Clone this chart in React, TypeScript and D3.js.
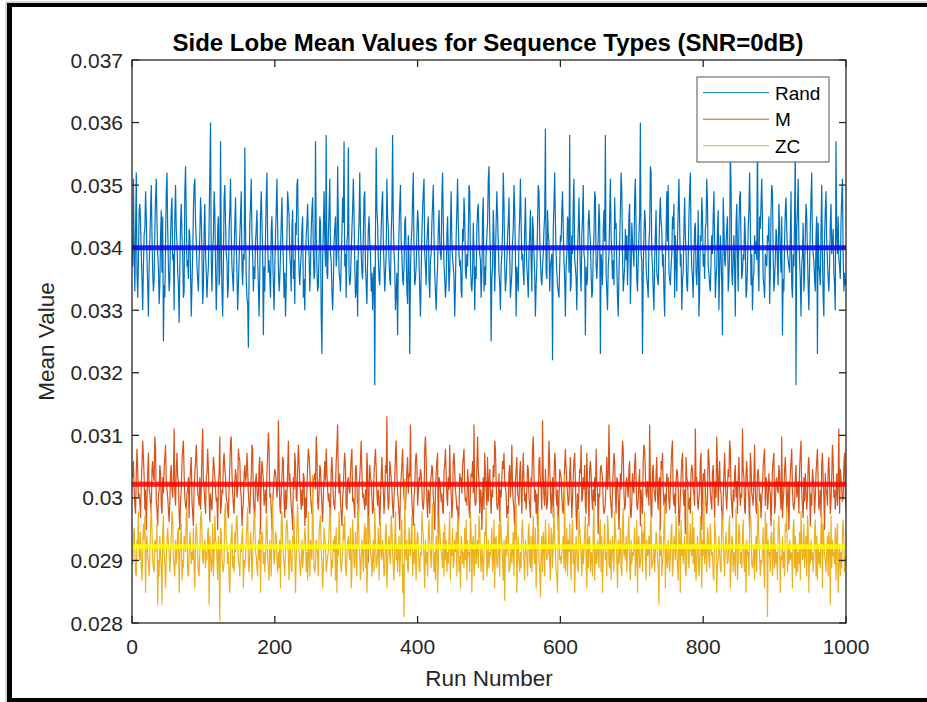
import React from 'react';
import * as d3 from 'd3';

// ---------- data ----------
const X_TICKS = [0, 200, 400, 600, 800, 1000];
const Y_TICKS = [0.028, 0.029, 0.03, 0.031, 0.032, 0.033, 0.034, 0.035, 0.036, 0.037];
const X_DOMAIN = [0, 1000];
const Y_DOMAIN = [0.028, 0.037];
const SERIES_NAMES = ['Rand', 'M', 'ZC'];
const SERIES_MEANS = [0.034, 0.03022, 0.02922];

// values are coded one character per run: value = centre + step * (index in ALPHABET - 24)
const ALPHABET = 'ABCDEFGHIJKLMNOPQRSTUVWXYZabcdefghijklmnopqrstuvwxyz';
const RAND_CENTRE = 0.034;
const RAND_STEP = 0.0001;
const M_CENTRE = 0.0302;
const M_STEP = 0.000065;
const ZC_CENTRE = 0.0292;
const ZC_STEP = 0.000065;

const RAND_CODES = [
  'VjXRbkUQWe fcXTOVabhd WSNVZeiaUR TbgjcXVPSa eUdJSQZhkb',
  'VRTaegWXOd ibZUSMVcfa XQRhldVWTb aUNSXeijcZ VTRWagdXPS',
  'bfXUQTVcks WRXaheVOTb dSUpZRNVgi cXWQSbejaV TRXcgZUOSW',
  'adhVSXWobT QPIUcfjaXR VTZbeWSNUd hcXKVRagkZ UWTQbdXSOV',
  'aejbVRTXcg ZWQUNSahfd XVRbeTWPca ijZUSVXbdQ TOWacfZXRV',
  'begXTUpaVR SXdcNHWbhZ VqUTaejXWR OSZbdVXlcU TRWagcpVXQ',
  'ZaoUSTXbej dVQRWNZckb XUTaghVSPW bdZXRUOTVC aoecWTSXbf',
  'hZVRUXjdbW TSaeqcXVOR UKWbfiZXTS VcdXRPaWHU ZbgkXSTVae',
  'cWRNUaehjX VSZbdTQWXc fiaUROSVbe ZXWgkcVTQS adXRUbhZWV',
  'TNSaejcXVW RQbZgdUTXV aihWSRUcXO VTbefZXWQU dgRVSXacjl',
  'bXJTVeaRWc hdZUSOVXbk fVRTWacgXQ SUZbieXNVT RadjcWXUSb',
  'gZVTQXaeWR dbXUNSVcih aWTSVXbdrU TeaZRVWXGb fkcXUSRQVa',
  'ZehbWTNVXd cUqRSaXfjW VTOXbgZURa diXWKVSTce bZUQRXahgV',
  'TWafcHXVSb eZqUROVXdj aXTWSgbcVQ NUZekhXRTV bWaSXdfPUc',
  'ZXVgjbTRWa dsXWHUaecV TSQZblkXVR OWaeUTSXdg cbVXRNWahZ',
  'iUTSVXdbfQ aWRZejcVXO TUbgaXSRWd hkZVTQXbcU SWeNRaZgdV',
  'XTbcjfVUSR WaXdhZQTVb eOUaXSKgcW VZbdRTXoiU SWaVNcfXRb',
  'ghZTUXWdaQ RVbekcSXOT UaXZWrVRdb fjcTSQXWVa ZdPUeihXRT',
  'WbaVSfcXUd KTRZegbXWV UahSQXVdoC bejZWTNVXc RUafdXSOVb',
  'gkZXWTRadH cVUSbiXQNa ehZWTRVcfX ZbUSOpaXdW VTcgjXRUST',
];

const M_CODES = [
  'aeXTRbhcVW UQZdjfaSXN VbgXWTRcea ZkhUSOVXdb TRaWcfiZXV',
  'SPUbdXVamW TcgaZRNUXe hjbVTSWXaQ ZcfUROXbei dWVTaSXgmZ',
  'XURabhcVPW TSZfdaXUVN ZbkRTXWegc aVUSQXdjkb WTRZcaVXhf',
  'eXVOSUbdZa gcWTRXaihV SQZbXUWdfM aecZTVXRbg lhVWSNUXac',
  'bZVXodTRWa feUQXSVcjZ bWTRNaXgdV UcieZWSXTb aOVQXdhfcW',
  'TRVZabXkgU SWdcXTPVae ZhbXUWRQcf aVTSXeinZW bUROVXdgcT',
  'SZaXWbfhUV TQcdZRNXae jbVWUSXTgc FXdaZVRSbe hcWTXUOVaf',
  'ZXRVdbpWSU ecaXTQVZgj bWURNXadhZ VTSXcfWban ZUROVXegdT',
  'WaZcbXTSVh kfUQXWRZad cVTNXbegIa ZXUWSRcdhb VTaXiZWQUe',
  'gcXVSTORbZ aWdfhXUVTc ZSQXbaeWnV TUdkcZRXWN VaSgbXTfUZ',
  'cWRXVdajhZ TSUbPXVaec gZXWQTRbdV aiXUSNZcfW VTbeXRagZU',
  'WSXdcVTQaZ hkbUXRWOVe fZXSoaVTcW SUbjdXRVaQ ZgeWTXNUcb',
  'aVSRXdhcZW TUbfXQVaeg ZRNWSXcbiU VaXdTRgZWO cebVSXUaTh',
  'ZXMWVcdbaT RSUZfXanbV TQXcgeWRaZ VNUbXdjhWS TZaXVceRQU',
  'bXWdgaTSVZ cOXUReihbW VZXTnaRQcd XWUbfVSZaN ecgXTVWRbZ',
  'aUSXdhjVTW RZcbXOQVae gWTXMfaZUS VRbdcXWTmZ aUSVXegNWb',
  'ZcXTRVhfaW USbdXQZVkc TaeXWRNUbg ZVSXcajhWT QXUbdVZRaf',
  'XTWVmcaSRb eZXUNgdWVT aiXSRbcZUW QVXdfhTaZS UbXWOVcegR',
  'TZaXWdbVSk QUXcfaRVZN WbehXTSUad VXZRcgjWTQ aUbXSVdfZO',
  'WTcaXRVbeh ZSUXQdgaVN bXWTcfZRUa ieVXSWbTZm RcaXUVdgWS',
];

const ZC_CODES = [
  'UbdXSRaZhW VcTQXeagNZ bWURXdjcVT SaZXeKVRbW TKcgXUOVad',
  'ZXSWbhfVTR aUXcdNWZeQ VTbaXgiSRW cZUXVdTOae bWSRXfhcVU',
  'ZaTXVcdKbW SUeRXgaZVQ bXGdcWTSVh jaZUXRNVbe TWScXfgaVU',
  'RZXbdOVTWa eiUSXcZQVb hfXWTRaVdN ZcbUXSWegV TQaXRdkZUW',
  'cbVSXTaOeh ZWURXdfcVQ aXTSbZgWNV ejcXURVaTW ZdbSXQhVRa',
  'XVqcTSUaZW RbegXVOTda ZSUWXcifRV TaXbQdNZWh cVSUXeagTR',
  'WZbXVdOSfa UTcXRjhZWQ VaXSbeTdNU ZgcXWRVaSi bTUXdQZfWV',
  'aXRSceOVZb WUgdXTQahV ZSXbRWcfNU HpXVaTSdZW bgRXUeVQac',
  'ZTSXWhdbVO aUXRcfZWTe jVSXQbaNUg dZXWTcReVa SXUbhQZWdT',
  'VaXcRgeSWO bZUXTdVfQa WXShcNZbRV eUXaTgdWSZ VQXcbiRUaT',
  'XWZdSVfOab UTXeRhcZVQ aLXbWdgSTV ZUXcReajNW bVSXTdfZUQ',
  'aXWRceVTbS ZgXUdOWahV TMXbScZRfa VWXeUQdbTZ iaXSRNcgVW',
  'UXZbTqSVdR aXeWQcfUZN VbXTShdaWR ZUXcgVOeTa bSXWRdjQZV',
  'UaXTcfSbNW ZeVXRgdUTa QXbWShcZVO aUXdTReiWZ VbSXcgTQaU',
  'XWZdRVfNab TUXeScZhVQ aWXbRdgTUV ZSXcaVTKeW bRUXdjOZVT',
  'aXSWceRUbZ VgXTQdaNfW ZUXbSRcmVT aeXWhUdSZQ VbXRTgcOaW',
  'nUXZSdbVTe aWXRQfcZNU VbXTSheaWR ZcXUVdgOTb aSXWRiZQVe',
  'cUXTbfVSZN aWXRdgeUTV ZQXbScjaWR VUXdTOhZeH aWXSbcRVfT',
  'ZUXQdgaNWV bTXReciSZU aVXWOdfTbR ZSXUcQhaVW eTXbRgdNZU',
  'aVXSWcfRbQ ZUXTdhOeaW VSXbRcZKgT aWXUdQbeNV ZRXTcfaSWU',
];

function decode(codes: string[], centre: number, step: number): number[] {
  return codes
    .join('')
    .replace(/\s+/g, '')
    .split('')
    .map((c) => centre + step * (ALPHABET.indexOf(c) - 24));
}

const RAND_VALUES = decode(RAND_CODES, RAND_CENTRE, RAND_STEP);
const M_VALUES = decode(M_CODES, M_CENTRE, M_STEP);
const ZC_VALUES = decode(ZC_CODES, ZC_CENTRE, ZC_STEP);

// ---------- styles ----------
const W = 927;
const H = 702;
const M_LEFT = 132;
const M_RIGHT = 846;
const M_TOP = 60;
const M_BOTTOM = 623;
const LINE_COLORS = ['#0072BD', '#D95319', '#EDB120'];
const MEAN_COLORS = ['#0000FF', '#FF0000', '#FFFF00'];
const AXIS_COLOR = '#262626';
const FONT = '"Liberation Sans", Arial, Helvetica, sans-serif';

export default function App() {
  const x = d3.scaleLinear().domain(X_DOMAIN).range([M_LEFT, M_RIGHT]);
  const y = d3.scaleLinear().domain(Y_DOMAIN).range([M_BOTTOM, M_TOP]);
  const line = d3
    .line<number>()
    .x((_, i) => x(i + 1))
    .y((d) => y(d));
  const allSeries = [RAND_VALUES, M_VALUES, ZC_VALUES];
  const tick = 7;

  return (
    <svg
      width={W}
      height={H}
      style={{ position: 'absolute', left: 0, top: 0, background: '#fff' }}
      fontFamily={FONT}
    >
      <rect x={0} y={0} width={W} height={H} fill="#fff" />
      {/* outer frame */}
      <rect x={6} y={2} width={W} height={H} fill="none" stroke="#b0b0b0" strokeWidth={1} />
      <rect x={7} y={3} width={5} height={H} fill="#000" />
      <rect x={7} y={3} width={W} height={4} fill="#000" />
      <rect x={7} y={698} width={W} height={5} fill="#000" />

      <defs>
        <clipPath id="plotClip">
          <rect x={M_LEFT} y={M_TOP} width={M_RIGHT - M_LEFT} height={M_BOTTOM - M_TOP} />
        </clipPath>
      </defs>

      <g clipPath="url(#plotClip)">
        {allSeries.map((vals, i) => (
          <path
            key={SERIES_NAMES[i]}
            d={line(vals) || ''}
            fill="none"
            stroke={LINE_COLORS[i]}
            strokeWidth={1.2}
            strokeLinejoin="miter"
          />
        ))}
        {SERIES_MEANS.map((m, i) => (
          <line
            key={'mean' + i}
            x1={x(X_DOMAIN[0])}
            x2={x(X_DOMAIN[1])}
            y1={y(m)}
            y2={y(m)}
            stroke={MEAN_COLORS[i]}
            strokeOpacity={0.85}
            strokeWidth={5}
          />
        ))}
      </g>

      {/* axes box */}
      <rect
        x={M_LEFT}
        y={M_TOP}
        width={M_RIGHT - M_LEFT}
        height={M_BOTTOM - M_TOP}
        fill="none"
        stroke={AXIS_COLOR}
        strokeWidth={1.3}
      />
      {X_TICKS.map((t) => (
        <g key={'xt' + t}>
          <line x1={x(t)} x2={x(t)} y1={M_BOTTOM} y2={M_BOTTOM - tick} stroke={AXIS_COLOR} strokeWidth={1.3} />
          <line x1={x(t)} x2={x(t)} y1={M_TOP} y2={M_TOP + tick} stroke={AXIS_COLOR} strokeWidth={1.3} />
          <text x={x(t)} y={654} textAnchor="middle" fontSize={21} fill={AXIS_COLOR}>
            {d3.format('d')(t)}
          </text>
        </g>
      ))}
      {Y_TICKS.map((t) => (
        <g key={'yt' + t}>
          <line x1={M_LEFT} x2={M_LEFT + tick} y1={y(t)} y2={y(t)} stroke={AXIS_COLOR} strokeWidth={1.3} />
          <line x1={M_RIGHT} x2={M_RIGHT - tick} y1={y(t)} y2={y(t)} stroke={AXIS_COLOR} strokeWidth={1.3} />
          <text x={123} y={y(t) + 7.5} textAnchor="end" fontSize={21} fill={AXIS_COLOR}>
            {d3.format('~g')(+t.toFixed(3))}
          </text>
        </g>
      ))}

      {/* title and labels */}
      <text x={488} y={51} textAnchor="middle" fontSize={24} fontWeight="bold" fill="#000">
        Side Lobe Mean Values for Sequence Types (SNR=0dB)
      </text>
      <text x={489} y={686} textAnchor="middle" fontSize={22.5} fill={AXIS_COLOR}>
        Run Number
      </text>
      <text
        transform={`translate(54,${(M_TOP + M_BOTTOM) / 2}) rotate(-90)`}
        textAnchor="middle"
        fontSize={22.5}
        fill={AXIS_COLOR}
      >
        Mean Value
      </text>

      {/* legend */}
      <g>
        <rect x={697} y={77} width={132} height={85} fill="#fff" stroke="#555" strokeWidth={1} />
        {SERIES_NAMES.map((name, i) => {
          const ly = 92.7 + i * 26.5;
          return (
            <g key={'lg' + name}>
              <line x1={703} x2={769} y1={ly} y2={ly} stroke={LINE_COLORS[i]} strokeWidth={1} />
              <text x={775} y={ly + 7} fontSize={19} fill="#000">
                {name}
              </text>
            </g>
          );
        })}
      </g>
    </svg>
  );
}
